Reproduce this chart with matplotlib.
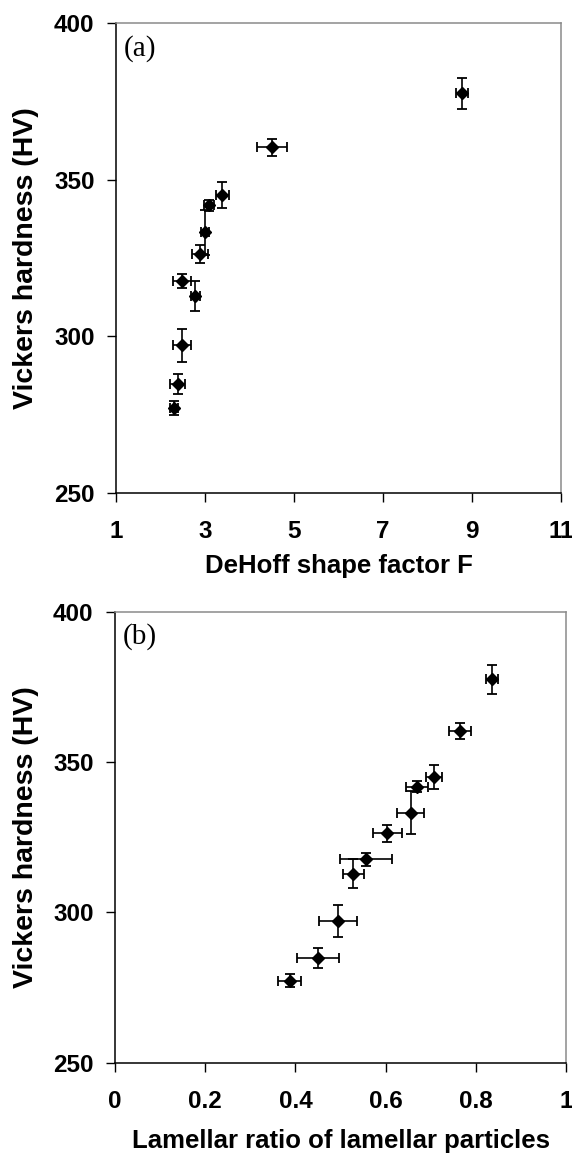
import matplotlib
matplotlib.use("Agg")
import matplotlib.pyplot as plt

# ---- data ----
hardness = [377.5, 360.3, 345.0, 341.8, 333.2, 326.3, 317.7, 312.9, 297.2, 284.8, 277.3]
hardness_err = [4.9, 2.7, 4.1, 1.8, 7.2, 2.9, 2.2, 4.9, 5.3, 3.2, 2.2]

dehoff_F = [8.78, 4.50, 3.39, 3.09, 3.00, 2.88, 2.49, 2.78, 2.49, 2.39, 2.30]
dehoff_F_err = [0.13, 0.34, 0.15, 0.11, 0.10, 0.18, 0.20, 0.10, 0.20, 0.17, 0.09]

lamellar_ratio = [0.836, 0.765, 0.707, 0.669, 0.656, 0.604, 0.557, 0.528, 0.495, 0.450, 0.387]
lamellar_ratio_err = [0.014, 0.024, 0.017, 0.024, 0.030, 0.032, 0.058, 0.023, 0.042, 0.047, 0.026]

xticks_a = [1, 3, 5, 7, 9, 11]
xticklabels_a = ["1", "3", "5", "7", "9", "11"]
xticks_b = [0, 0.2, 0.4, 0.6, 0.8, 1.0]
xticklabels_b = ["0", "0.2", "0.4", "0.6", "0.8", "1"]
yticks = [250, 300, 350, 400]
yticklabels = ["250", "300", "350", "400"]

ylabel = "Vickers hardness (HV)"
xlabel_a = "DeHoff shape factor F"
xlabel_b = "Lamellar ratio of lamellar particles"

plt.rcParams['font.family'] = ['Liberation Sans', 'DejaVu Sans']

fig = plt.figure(figsize=(5.72, 11.59), dpi=100)
W, H = 572.0, 1159.0

def add_axes(l, r, t, b):
    return fig.add_axes([l / W, 1 - b / H, (r - l) / W, (b - t) / H])

ax_a = add_axes(116, 561, 22.7, 493.3)
ax_b = add_axes(115, 566, 611.7, 1062.7)

def style(ax, xs, xerr, xlim, xt, xtl, xlabel, panel, xlab_y, ylab_x):
    ax.errorbar(xs, hardness, xerr=xerr, yerr=hardness_err, fmt='D', color='black',
                markersize=6, elinewidth=1.2, capsize=3.6, capthick=1.3, ecolor='black')
    ax.set_xlim(*xlim)
    ax.set_ylim(250, 400)
    ax.set_xticks(xt)
    ax.set_xticklabels(xtl)
    ax.set_yticks(yticks)
    ax.set_yticklabels(yticklabels)
    ax.tick_params(direction='out', length=6.5, width=1.0, labelsize=17.5, colors='black')
    ax.tick_params(axis='x', pad=13)
    ax.tick_params(axis='y', pad=9)
    for lab in ax.get_xticklabels() + ax.get_yticklabels():
        lab.set_fontweight('bold')
    for s in ['left', 'bottom']:
        ax.spines[s].set_color('black')
        ax.spines[s].set_linewidth(1.1)
    for s in ['top', 'right']:
        ax.spines[s].set_color('#8a8a8a')
        ax.spines[s].set_linewidth(1.1)
    ax.set_xlabel(xlabel, fontsize=18.5, fontweight='bold')
    ax.xaxis.label.set_va('center')
    ax.xaxis.set_label_coords(0.5, xlab_y)
    ax.set_ylabel(ylabel, fontsize=20.5, fontweight='bold')
    ax.yaxis.label.set_va('center')
    ax.yaxis.set_label_coords(ylab_x, 0.5)
    ax.text(0.018, 0.945, panel, transform=ax.transAxes, fontsize=21,
            family=['Liberation Serif', 'DejaVu Serif'], va='center', ha='left')

style(ax_a, dehoff_F, dehoff_F_err, (1, 11), xticks_a, xticklabels_a, xlabel_a, "(a)",
      (493.3 - 566) / 470.6, (26 - 116) / 445)
style(ax_b, lamellar_ratio, lamellar_ratio_err, (0, 1), xticks_b, xticklabels_b, xlabel_b, "(b)",
      (1062.7 - 1141) / 451, (26 - 115) / 451)

fig.savefig("out.png", dpi=100)
